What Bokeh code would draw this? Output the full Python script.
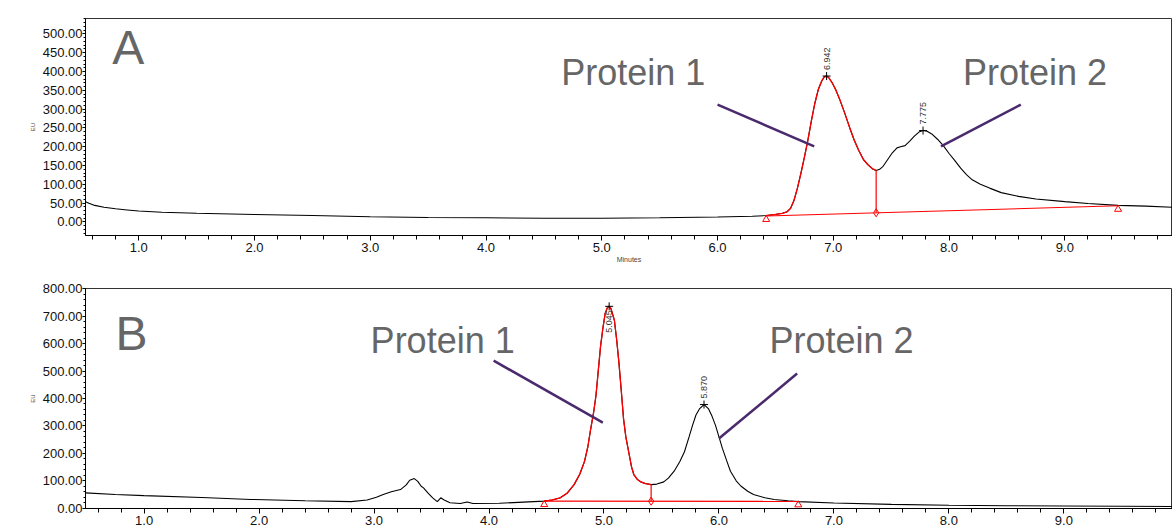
import numpy as np
from bokeh.plotting import figure
from bokeh.layouts import column
from bokeh.models import Label, FixedTicker, NumeralTickFormatter, Range1d
from bokeh.core.properties import value
from bokeh.embed import file_html
from bokeh.resources import INLINE

# ---------------- data: panel A ----------------
a_time = [0.54, 0.57, 0.62, 0.70, 0.80, 0.90, 1.00, 1.20, 1.50, 2.00, 2.50, 3.00,
          3.50, 4.00, 4.50, 5.00, 5.50, 6.00, 6.30, 6.42, 6.50, 6.56, 6.60, 6.63,
          6.66, 6.69, 6.72, 6.75, 6.78, 6.81, 6.84, 6.87, 6.90, 6.92, 6.94, 6.96,
          6.99, 7.02, 7.06, 7.10, 7.14, 7.18, 7.22, 7.26, 7.30, 7.34, 7.37, 7.40,
          7.43, 7.47, 7.51, 7.55, 7.58, 7.62, 7.66, 7.70, 7.74, 7.775, 7.81, 7.85,
          7.90, 7.95, 8.00, 8.05, 8.10, 8.15, 8.20, 8.27, 8.35, 8.45, 8.60, 8.75,
          9.00, 9.20, 9.46, 9.70, 9.94]
a_eu = [54, 50, 44, 39, 35, 32, 29, 26, 23, 20, 17, 14,
        12, 11, 10, 10, 11, 13, 15, 17, 20, 23, 27, 36,
        57, 90, 129, 172, 217, 268, 315, 352, 375, 385, 388, 384,
        370, 352, 322, 288, 252, 218, 190, 166, 152, 141, 137, 140,
        148, 166, 184, 197, 200, 203, 215, 228, 239, 243, 241, 234,
        220, 203, 182, 163, 143, 126, 112, 100, 90, 78, 68, 61,
        54, 49, 44, 42, 39]
a_peak_time = [6.942, 7.775]
a_peak_eu = [388, 243]
a_peak_text = ["6.942", "7.775"]
a_base_time = [6.42, 9.46]
a_base_eu = [16, 43]
a_split_time = 7.37
a_y_ticks = [0, 50, 100, 150, 200, 250, 300, 350, 400, 450, 500]

# ---------------- data: panel B ----------------
b_time = [0.49, 0.75, 1.00, 1.50, 1.93, 2.40, 2.80, 2.94, 3.02, 3.08, 3.15, 3.23,
          3.28, 3.31, 3.35, 3.38, 3.41, 3.43, 3.47, 3.51, 3.55, 3.58, 3.61, 3.66,
          3.75, 3.81, 3.86, 4.09, 4.39, 4.48, 4.55, 4.62, 4.68, 4.74, 4.79, 4.83,
          4.86, 4.88, 4.91, 4.93, 4.95, 4.97, 4.99, 5.01, 5.03, 5.045, 5.06, 5.09,
          5.11, 5.13, 5.15, 5.17, 5.19, 5.22, 5.24, 5.26, 5.29, 5.32, 5.36, 5.41,
          5.46, 5.52, 5.56, 5.61, 5.66, 5.70, 5.74, 5.77, 5.80, 5.83, 5.87, 5.91,
          5.94, 5.97, 6.00, 6.03, 6.07, 6.10, 6.15, 6.19, 6.25, 6.30, 6.40, 6.48,
          6.60, 6.69, 7.00, 7.50, 8.00, 8.50, 9.00, 9.50, 9.95]
b_eu = [56, 50, 46, 39, 32, 27, 24, 30, 40, 50, 60, 68,
        85, 102, 108, 98, 80, 74, 55, 38, 24, 38, 30, 20,
        17, 23, 17, 18, 24, 26, 30, 38, 55, 86, 125, 170,
        225, 278, 350, 410, 500, 590, 655, 710, 732, 736, 728, 686,
        615, 530, 430, 326, 260, 194, 150, 122, 105, 96, 90, 86,
        88, 96, 110, 135, 170, 206, 260, 302, 340, 362, 378, 362,
        335, 302, 260, 218, 170, 135, 100, 81, 62, 50, 38, 32,
        27, 24, 19, 14, 11, 9, 8, 7, 6]
b_peak_time = [5.045, 5.870]
b_peak_eu = [736, 378]
b_peak_text = ["5.045", "5.870"]
b_base_time = [4.48, 6.69]
b_base_eu = [26, 25]
b_split_time = 5.41
b_y_ticks = [0, 100, 200, 300, 400, 500, 600, 700, 800]

x_ticks = [1.0, 2.0, 3.0, 4.0, 5.0, 6.0, 7.0, 8.0, 9.0, 10.0]

FONT = "Liberation Sans"
GRAY = "#666666"
PURPLE = "#4a2a6c"
RED = "#ff0000"


def panel(time, eu, peak_t, peak_eu, peak_txt, peak_off, peak_align,
          base_t, base_eu, split_t, y_ticks, y_minor, x_rng, y_rng,
          height, top, bottom, xlabel, big, big_pos, callouts, prot_pos):
    p = figure(width=1172, height=height, output_backend="svg", toolbar_location=None,
               x_range=Range1d(*x_rng), y_range=Range1d(*y_rng),
               min_border_left=85, min_border_right=0,
               min_border_top=top, min_border_bottom=bottom)
    p.grid.visible = False
    p.outline_line_color = "#333333"
    p.outline_line_width = 1
    p.background_fill_color = "white"
    p.border_fill_color = "white"

    t = np.array(time, dtype=float)
    e = np.array(eu, dtype=float)

    # main trace (black)
    p.line(t, e, line_color="black", line_width=1.1)
    # integrated peak segment (red)
    m = (t >= base_t[0] - 1e-9) & (t <= split_t + 1e-9)
    p.line(t[m], e[m], line_color=RED, line_width=1.3)

    # baseline
    p.line(base_t, base_eu, line_color=RED, line_width=1.1)
    px_units = (y_rng[1] - y_rng[0]) / (height - top - bottom)
    p.scatter(base_t, [v - 3.5 * px_units for v in base_eu], marker="triangle",
              size=7, fill_color=None, line_color=RED, line_width=1)
    split_base = float(np.interp(split_t, base_t, base_eu))
    split_top = float(np.interp(split_t, t, e))
    p.segment(x0=[split_t], y0=[split_base], x1=[split_t], y1=[split_top],
              line_color=RED, line_width=1.2)
    p.scatter([split_t], [split_base], marker="diamond", size=8,
              fill_color=None, line_color=RED, line_width=1)

    # peak apex marks and retention-time labels
    p.scatter(peak_t, peak_eu, marker="cross", size=8, line_color="black", line_width=1)
    for pt, pe, tx, off, al in zip(peak_t, peak_eu, peak_txt, peak_off, peak_align):
        p.text(x=[pt], y=[pe], text=[tx], angle=np.pi / 2, y_offset=off,
               text_align=al, text_baseline="middle",
               text_font=value(FONT), text_font_size="9px", text_color="#333333")

    # callout lines
    for (x0, y0, x1, y1) in callouts:
        p.segment(x0=[x0], y0=[y0], x1=[x1], y1=[y1], line_color=PURPLE, line_width=2.5)

    p.add_layout(Label(x=big_pos[0], y=big_pos[1], text=big, text_font=FONT,
                       text_font_size="48px", text_color=GRAY,
                       text_baseline="alphabetic"))
    for (lx, ly, lt) in prot_pos:
        p.add_layout(Label(x=lx, y=ly, text=lt, text_font=FONT,
                           text_font_size="36px", text_color=GRAY,
                           text_baseline="alphabetic"))

    # axes
    xa = p.xaxis[0]
    xa.ticker = FixedTicker(ticks=x_ticks,
                            minor_ticks=[round(0.2 * i, 1) for i in range(2, 51)])
    xa.formatter = NumeralTickFormatter(format="0.0")
    xa.major_tick_in = 0
    xa.major_tick_out = 5
    xa.minor_tick_in = 0
    xa.minor_tick_out = 4
    xa.major_label_standoff = 2
    xa.major_label_text_font = FONT
    xa.major_label_text_font_size = "13px"
    xa.major_label_text_color = "#111111"
    xa.axis_line_color = "black"
    if xlabel:
        xa.axis_label = xlabel
        xa.axis_label_text_font = FONT
        xa.axis_label_text_font_size = "7px"
        xa.axis_label_text_font_style = "normal"
        xa.axis_label_standoff = 1

    ya = p.yaxis[0]
    ya.ticker = FixedTicker(ticks=y_ticks, minor_ticks=y_minor)
    ya.formatter = NumeralTickFormatter(format="0.00")
    ya.major_tick_in = 0
    ya.major_tick_out = 3
    ya.minor_tick_in = 0
    ya.minor_tick_out = 2
    ya.major_label_standoff = 0
    ya.major_label_text_font = FONT
    ya.major_label_text_font_size = "13px"
    ya.major_label_text_color = "#111111"
    ya.axis_line_color = "black"
    ya.axis_label = "EU"
    ya.axis_label_text_font = FONT
    ya.axis_label_text_font_size = "6px"
    ya.axis_label_text_font_style = "normal"
    ya.axis_label_standoff = 4
    return p


pa = panel(a_time, a_eu, a_peak_time, a_peak_eu, a_peak_text, [-6, -6], ["left", "left"],
           a_base_time, a_base_eu, a_split_time, a_y_ticks, list(range(-30, 541, 10)),
           (0.54, 9.93), (-36, 541), 270, 18, 35, "Minutes", "A", (0.77, 464),
           [(6.00, 312, 6.835, 201), (7.93, 201, 8.62, 312)],
           [(4.65, 398, "Protein 1"), (8.12, 398, "Protein 2")])

pb = panel(b_time, b_eu, b_peak_time, b_peak_eu, b_peak_text, [4, -6], ["right", "left"],
           b_base_time, b_base_eu, b_split_time, b_y_ticks, list(range(0, 801, 20)),
           (0.49, 9.945), (-1, 801), 257, 18, 16, None, "B", (0.75, 637),
           [(4.04, 538, 4.99, 312), (6.00, 254, 6.68, 491)],
           [(2.97, 611, "Protein 1"), (6.44, 611, "Protein 2")])

layout = column(pa, pb, spacing=0)
open("out.html", "w").write(file_html(layout, INLINE))
